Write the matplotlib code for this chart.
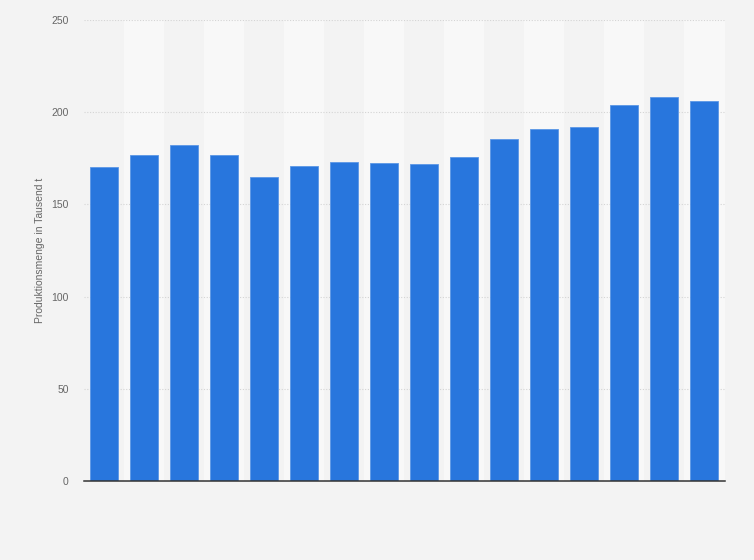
import matplotlib.pyplot as plt
import numpy as np

plt.rcParams['font.family'] = ['Liberation Sans', 'DejaVu Sans']

# Values (no category labels shown)
categories = list(range(16))
values = [170.1, 176.6, 182.0, 176.6, 164.7, 170.8, 172.8, 172.3,
          171.7, 175.5, 185.3, 190.7, 191.8, 203.7, 208.1, 206.0]
yticks = [0, 50, 100, 150, 200, 250]

fig = plt.figure(figsize=(7.54, 5.6), dpi=100)
fig.patch.set_facecolor('#f3f3f3')
ax = fig.add_axes([84 / 754, 1 - 481 / 560, 640.5 / 754, 461 / 560])
ax.set_facecolor('#f3f3f3')

x = np.arange(len(categories))

# alternating column bands
for i in x:
    if i % 2 == 1:
        ax.axvspan(i - 0.5, i + 0.5, color='#f8f8f8', zorder=0, lw=0)

# grid
for t in yticks[1:]:
    ax.axhline(t, color='#d4d4d4', lw=0.8, ls=(0, (1, 1.5)), zorder=1)

ax.bar(x, values, width=0.7, color='#2876dd', edgecolor='#5b97e6', linewidth=0.6, zorder=2)

ax.set_xlim(-0.5, len(categories) - 0.5)
ax.set_ylim(0, 250)
ax.set_yticks(yticks)
ax.set_yticklabels([str(t) for t in yticks], fontsize=7.5, color='#666666')
ax.tick_params(axis='y', length=0, pad=11)
ax.set_xticks([])

for s in ['top', 'right', 'left']:
    ax.spines[s].set_visible(False)
ax.spines['bottom'].set_color('#333333')
ax.spines['bottom'].set_linewidth(1.1)
ax.spines['bottom'].set_zorder(3)

fig.text(40 / 754, 1 - 250 / 560, 'Produktionsmenge in Tausend t', rotation=90,
         fontsize=7.5, color='#666666', ha='center', va='center')

fig.savefig('out.png', dpi=100, facecolor=fig.get_facecolor())
